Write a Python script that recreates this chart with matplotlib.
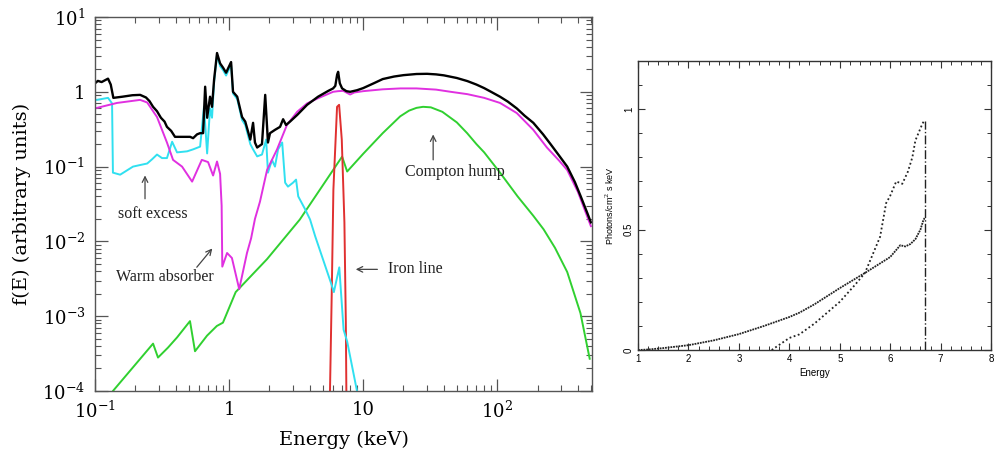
import matplotlib
matplotlib.use("Agg")
import matplotlib.pyplot as plt
from matplotlib.ticker import LogLocator, NullFormatter, FixedLocator, MultipleLocator

plt.rcParams['mathtext.fontset'] = 'dejavuserif'

# ---------------- left panel: spectral components (keV, arbitrary units)
total_E = [0.100, 0.105, 0.112, 0.125, 0.131, 0.137, 0.16, 0.19, 0.217, 0.24, 0.255, 0.271,
           0.29, 0.31, 0.33, 0.344, 0.37, 0.395, 0.45, 0.512, 0.539, 0.577, 0.608, 0.640,
           0.663, 0.686, 0.721, 0.746, 0.773, 0.813, 0.857, 0.902, 0.950, 1.035, 1.07,
           1.15, 1.25, 1.32, 1.44, 1.51, 1.56, 1.62, 1.76, 1.86, 1.95, 2.02, 2.20, 2.40,
           2.53, 2.66, 2.85, 3.22, 3.82, 4.61, 5.5, 5.97, 6.2, 6.4, 6.51, 6.7, 6.97, 7.5,
           8.0, 9, 10, 12, 14, 17, 20, 25, 30, 35, 40, 50, 60, 70, 80, 90, 105, 120, 140,
           160, 186, 220, 250, 290, 333, 380, 420, 470, 500]
total_f = [1.30, 1.40, 1.35, 1.50, 1.25, 0.83, 0.86, 0.90, 0.91, 0.84, 0.75, 0.63,
           0.55, 0.45, 0.40, 0.34, 0.30, 0.25, 0.25, 0.25, 0.24, 0.27, 0.28, 0.28,
           1.17, 0.45, 0.86, 0.63, 1.45, 3.3, 2.4, 2.1, 1.8, 2.5, 1.0,
           0.86, 0.46, 0.40, 0.23, 0.385, 0.21, 0.18, 0.2, 0.91, 0.21, 0.28, 0.31, 0.34,
           0.43, 0.36, 0.40, 0.49, 0.67, 0.86, 1.03, 1.11, 1.2, 1.7, 1.85, 1.3, 1.11, 1.02,
           1.0, 1.05, 1.12, 1.3, 1.48, 1.6, 1.67, 1.73, 1.74, 1.71, 1.66, 1.53, 1.39, 1.25,
           1.12, 1.0, 0.86, 0.74, 0.6, 0.48, 0.385, 0.27, 0.2, 0.14, 0.1, 0.062, 0.04,
           0.024, 0.018]

reflect_E = [0.1035, 0.146, 0.217, 0.245, 0.290, 0.344, 0.382, 0.446, 0.53, 0.626, 0.697,
             0.76, 0.813, 0.857, 0.88, 0.89, 0.966, 1.05, 1.19, 1.36, 1.46, 1.56, 1.70,
             1.92, 2.28, 2.70, 3.22, 3.82, 4.61, 5.97, 6.5, 7.1, 8.0, 8.6, 10, 14, 19, 25,
             35, 45, 60, 80, 105, 140, 186, 235, 290, 333, 400, 500]
reflect_f = [0.61, 0.71, 0.78, 0.72, 0.46, 0.21, 0.123, 0.10, 0.063, 0.123, 0.115,
             0.076, 0.117, 0.08, 0.03, 0.0046, 0.007, 0.006, 0.0023, 0.007, 0.011, 0.02, 0.034,
             0.09, 0.17, 0.36, 0.54, 0.70, 0.82, 1.0, 1.02, 1.03, 0.92, 0.98, 1.02, 1.08,
             1.11, 1.11, 1.07, 1.0, 0.93, 0.83, 0.71, 0.52, 0.31, 0.18, 0.12, 0.09, 0.046, 0.016]

soft_E = [0.1035, 0.125, 0.134, 0.136, 0.154, 0.192, 0.217, 0.245, 0.266, 0.29, 0.316,
          0.344, 0.376, 0.409, 0.486, 0.539, 0.608, 0.65, 0.686, 0.721, 0.746, 0.773,
          0.813, 0.857, 0.902, 0.95, 1.035, 1.07, 1.15, 1.25, 1.32, 1.44, 1.51, 1.62,
          1.76, 1.89, 1.95, 2.09, 2.20, 2.32, 2.49, 2.62, 2.75, 3.0, 3.16, 3.28, 3.7,
          4.02, 4.39, 5.75, 6.05, 6.64, 7.15, 7.6, 9.0]
soft_f = [0.78, 0.83, 0.7, 0.083, 0.078, 0.10, 0.105, 0.11, 0.125, 0.145, 0.13,
          0.13, 0.215, 0.155, 0.16, 0.17, 0.185, 0.63, 0.15, 0.6, 0.45, 1.35,
          3.1, 2.2, 1.95, 1.65, 2.3, 0.95, 0.8, 0.42, 0.36, 0.2, 0.17, 0.137,
          0.145, 0.23, 0.083, 0.123, 0.10, 0.17, 0.21, 0.061, 0.054, 0.061, 0.067, 0.04, 0.0267,
          0.0196, 0.0117, 0.0028, 0.0021, 0.0045, 0.00066, 0.00046, 0.0001]

power_E = [0.12, 0.136, 0.271, 0.295, 0.35, 0.409, 0.511, 0.557, 0.685, 0.81, 0.9, 1.12,
           1.92, 3.37, 6.97, 7.6, 10, 14, 18.9, 22, 25, 28, 32, 39, 50, 59.7, 70, 80, 105,
           142, 186, 222, 270, 333, 418, 490]
power_f = [6.5e-5, 1e-4, 0.00043, 0.00028, 0.00038, 0.00052, 0.00086, 0.00034, 0.00055, 0.00074,
           0.00082, 0.0021, 0.0058, 0.0196, 0.136, 0.086, 0.148, 0.28, 0.47, 0.56, 0.61, 0.63,
           0.62, 0.54, 0.39, 0.28, 0.2, 0.155, 0.083, 0.04, 0.022, 0.0145, 0.0082, 0.0039,
           0.0011, 0.00027]

iron_E = [5.62, 5.84, 6.0, 6.39, 6.62, 6.93, 7.25, 7.43, 7.52]
iron_f = [5e-5, 0.0023, 0.049, 0.63, 0.67, 0.23, 0.018, 0.00083, 5e-5]

# ---------------- right panel: two line profiles
profA_E = [1.0, 1.2, 1.5, 2.0, 2.5, 3.0, 3.5, 4.0, 4.2, 4.5, 5.0, 5.5, 6.0, 6.2, 6.3, 6.4,
           6.5, 6.6, 6.66, 6.69]
profA_v = [0.0, 0.002, 0.008, 0.02, 0.04, 0.066, 0.10, 0.137, 0.155, 0.19, 0.257, 0.32, 0.386,
           0.435, 0.43, 0.44, 0.46, 0.50, 0.54, 0.55]
profB_E = [3.65, 4.0, 4.2, 4.5, 5.0, 5.3, 5.5, 5.7, 5.8, 5.92, 6.0, 6.12, 6.24, 6.35, 6.44,
           6.5, 6.64, 6.67]
profB_v = [0.0, 0.05, 0.065, 0.11, 0.20, 0.27, 0.32, 0.42, 0.47, 0.61, 0.64, 0.70, 0.69, 0.74,
           0.80, 0.87, 0.94, 0.95]
edge_E = 6.69
edge_top = 0.95

fig = plt.figure(figsize=(9.94, 4.5), dpi=100)

# ---------------- left
ax = fig.add_axes([0.0956, 0.1311, 0.5, 0.8311])
ax.set_xscale('log')
ax.set_yscale('log')
ax.plot(power_E, power_f, color='#30d030', lw=1.4)
ax.plot(iron_E, iron_f, color='#e03030', lw=1.4)
ax.plot(soft_E, soft_f, color='#30e0f0', lw=1.4)
ax.plot(reflect_E, reflect_f, color='#e030e0', lw=1.4)
ax.plot(total_E, total_f, color='black', lw=1.7)
ax.set_xlim(0.1, 510)
ax.set_ylim(1e-4, 10)

serif = 'DejaVu Serif'
ax.xaxis.set_major_locator(FixedLocator([0.1, 1, 10, 100]))
ax.set_xticklabels(['$10^{-1}$', '1', '10', '$10^{2}$'], family=serif, fontsize=13)
ax.yaxis.set_major_locator(FixedLocator([1e-4, 1e-3, 1e-2, 1e-1, 1, 10]))
ax.set_yticklabels(['$10^{-4}$', '$10^{-3}$', '$10^{-2}$', '$10^{-1}$', '1', '$10^{1}$'],
                   family=serif, fontsize=13)
ax.xaxis.set_minor_locator(LogLocator(base=10, subs=range(2, 10), numticks=20))
ax.yaxis.set_minor_locator(LogLocator(base=10, subs=range(2, 10), numticks=20))
ax.xaxis.set_minor_formatter(NullFormatter())
ax.yaxis.set_minor_formatter(NullFormatter())
ax.tick_params(which='both', direction='in', top=True, right=True, color='#555555')
ax.tick_params(which='major', length=9, width=0.9, pad=7)
ax.tick_params(which='minor', length=4.5, width=0.8)
for s in ax.spines.values():
    s.set_color('#555555')
    s.set_linewidth(1.0)
ax.set_xlabel('Energy (keV)', family=serif, fontsize=14, labelpad=6)
ax.set_ylabel('f(E) (arbitrary units)', family=serif, fontsize=14, labelpad=8)

# annotations
note = dict(family='Liberation Serif', fontsize=11.5, color='#222222', ha='center', va='center')
arr = dict(arrowstyle='->', color='#444444', lw=0.9)
ax.text(0.271, 0.0229, 'soft excess', **note)
ax.annotate('', xy=(0.236, 0.083), xytext=(0.236, 0.0341), arrowprops=arr)
ax.text(0.333, 0.0033, 'Warm absorber', **note)
ax.annotate('', xy=(0.773, 0.0086), xytext=(0.557, 0.00423), arrowprops=arr)
ax.text(24.4, 0.00423, 'Iron line', **note)
ax.annotate('', xy=(8.4, 0.00423), xytext=(13.4, 0.00423), arrowprops=arr)
ax.text(48.6, 0.0858, 'Compton hump', **note)
ax.annotate('', xy=(33.3, 0.293), xytext=(33.3, 0.113), arrowprops=arr)

# ---------------- right
bx = fig.add_axes([0.6419, 0.2222, 0.3551, 0.6422])
bx.plot(profA_E, profA_v, color='#222222', lw=1.3, ls=(0, (1, 0.5)))
bx.plot(profB_E, profB_v, color='#222222', lw=1.3, ls=(0, (1, 1.4)))
bx.vlines(edge_E, 0, edge_top, color='#222222', lw=1.0, ls='-.')
bx.set_xlim(1, 8)
bx.set_ylim(0, 1.2)
bx.xaxis.set_major_locator(MultipleLocator(1))
bx.xaxis.set_minor_locator(MultipleLocator(0.2))
bx.yaxis.set_major_locator(FixedLocator([0, 0.5, 1]))
bx.yaxis.set_minor_locator(MultipleLocator(0.1))
bx.tick_params(which='both', direction='in', top=True, right=True, color='#333333')
bx.tick_params(which='major', length=5, width=0.8, labelsize=7, pad=3)
bx.tick_params(which='minor', length=3, width=0.7)
sans = 'Liberation Sans'
for t in bx.get_xticklabels():
    t.set_family(sans)
bx.set_yticklabels(['0', '0.5', '1'], rotation=90, va='center', family=sans, fontsize=7)
for s in bx.spines.values():
    s.set_color('#333333')
    s.set_linewidth(1.0)
bx.set_xlabel('Energy', family=sans, fontsize=7, labelpad=3)
bx.set_ylabel('Photons/cm$^2$ s keV', family=sans, fontsize=6.5, labelpad=6)

fig.savefig('out.png', dpi=100, facecolor='white')
